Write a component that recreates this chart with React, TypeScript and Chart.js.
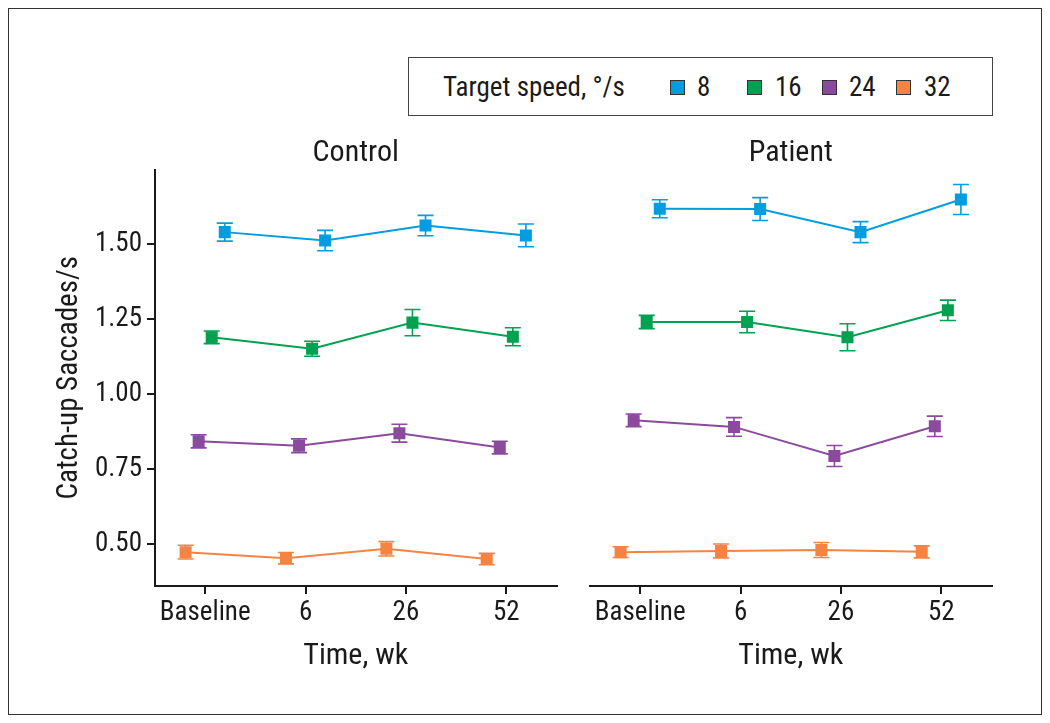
import React, { useEffect, useRef } from 'react';
import { Chart, registerables } from 'chart.js';

Chart.register(...registerables);

// ---------- data ----------
const timeLabels = ['Baseline', '6', '26', '52'];
const speedLabels = ['8', '16', '24', '32'];
const speedColors = ['#009EE0', '#00A150', '#8C4A9E', '#F58443'];
const dodge = [0.195, 0.065, -0.065, -0.195];
const yTicks = [0.5, 0.75, 1.0, 1.25, 1.5];

const control8 = [1.541, 1.513, 1.563, 1.53];
const control16 = [1.19, 1.152, 1.239, 1.192];
const control24 = [0.843, 0.828, 0.87, 0.822];
const control32 = [0.473, 0.453, 0.484, 0.45];
const control8Se = [0.03, 0.034, 0.034, 0.038];
const control16Se = [0.021, 0.025, 0.044, 0.03];
const control24Se = [0.022, 0.023, 0.03, 0.021];
const control32Se = [0.023, 0.019, 0.024, 0.019];

const patient8 = [1.619, 1.618, 1.541, 1.65];
const patient16 = [1.241, 1.241, 1.19, 1.28];
const patient24 = [0.913, 0.891, 0.794, 0.893];
const patient32 = [0.473, 0.477, 0.48, 0.474];
const patient8Se = [0.03, 0.038, 0.035, 0.05];
const patient16Se = [0.022, 0.036, 0.045, 0.034];
const patient24Se = [0.021, 0.031, 0.035, 0.034];
const patient32Se = [0.018, 0.023, 0.025, 0.02];

const FONT = "'Liberation Sans Narrow', 'Arial Narrow', 'Roboto Condensed', sans-serif";
const INK = '#1a1a1a';
const CAP = 0.08;

const errorBarPlugin = {
  id: 'errorBars',
  beforeDatasetsDraw(chart: any) {
    const { ctx } = chart;
    const xs = chart.scales.x;
    const ys = chart.scales.y;
    chart.data.datasets.forEach((ds: any) => {
      const errs: number[] = ds.errors;
      ctx.save();
      ctx.strokeStyle = ds.borderColor;
      ctx.lineWidth = 1.6;
      ds.data.forEach((p: any, j: number) => {
        const xc = xs.getPixelForValue(p.x);
        const xl = xs.getPixelForValue(p.x - CAP);
        const xr = xs.getPixelForValue(p.x + CAP);
        const yt = ys.getPixelForValue(p.y + errs[j]);
        const yb = ys.getPixelForValue(p.y - errs[j]);
        ctx.beginPath();
        ctx.moveTo(xc, yt);
        ctx.lineTo(xc, yb);
        ctx.moveTo(xl, yt);
        ctx.lineTo(xr, yt);
        ctx.moveTo(xl, yb);
        ctx.lineTo(xr, yb);
        ctx.stroke();
      });
      ctx.restore();
    });
  },
};

function buildConfig(title: string, means: number[][], errs: number[][], showY: boolean, padLeft: number, padRight: number): any {
  const datasets = means.map((vals, i) => ({
    label: speedLabels[i],
    data: vals.map((v, j) => ({ x: j + dodge[i], y: v })),
    errors: errs[i],
    borderColor: speedColors[i],
    backgroundColor: speedColors[i],
    borderWidth: 2,
    pointStyle: 'rect',
    pointRadius: 8.5,
    pointBorderWidth: 0,
    tension: 0,
  }));
  return {
    type: 'line',
    data: { datasets },
    plugins: [errorBarPlugin],
    options: {
      animation: false,
      responsive: false,
      layout: { padding: { left: padLeft, right: padRight, top: 0, bottom: 0 } },
      plugins: {
        legend: { display: false },
        tooltip: { enabled: false },
        title: {
          display: true,
          fullSize: false,
          text: title,
          color: INK,
          font: { family: FONT, size: 30, weight: 'normal', lineHeight: 1 },
          padding: { top: 18, bottom: 1.5 },
        },
      },
      scales: {
        x: {
          type: 'linear',
          min: -0.5,
          max: 3.5,
          afterBuildTicks: (s: any) => {
            s.ticks = timeLabels.map((_, i) => ({ value: i }));
          },
          afterFit: (s: any) => {
            s.height = 104;
          },
          ticks: {
            callback: (v: any) => timeLabels[v],
            color: INK,
            font: { family: FONT, size: 27 },
            padding: 3,
            maxRotation: 0,
            autoSkip: false,
          },
          grid: { drawOnChartArea: false, drawTicks: true, tickLength: 8, color: INK, lineWidth: 2 },
          border: { display: true, color: INK, width: 2 },
          title: {
            display: true,
            text: 'Time, wk',
            color: INK,
            font: { family: FONT, size: 30, lineHeight: 1.2 },
            padding: { top: 0, bottom: 16 },
          },
        },
        y: {
          type: 'linear',
          display: showY,
          min: 0.36,
          max: 1.75,
          afterBuildTicks: (s: any) => {
            s.ticks = yTicks.map((v) => ({ value: v }));
          },
          afterFit: (s: any) => {
            s.width = showY ? 135 : 0;
          },
          ticks: {
            callback: (v: any) => Number(v).toFixed(2),
            color: INK,
            font: { family: FONT, size: 27 },
            padding: 5,
          },
          grid: { drawOnChartArea: false, drawTicks: true, tickLength: 8, color: INK, lineWidth: 2 },
          border: { display: true, color: INK, width: 2 },
          title: {
            display: true,
            text: 'Catch-up Saccades/s',
            color: INK,
            font: { family: FONT, size: 29, lineHeight: 1.2 },
            padding: { top: 32, bottom: 0 },
          },
        },
      },
    },
  };
}

function Panel(props: { left: number; width: number; config: any }) {
  const ref = useRef<HTMLCanvasElement | null>(null);
  useEffect(() => {
    if (!ref.current) return;
    const chart = new Chart(ref.current, props.config);
    return () => chart.destroy();
  }, []);
  return (
    <canvas
      ref={ref}
      width={props.width}
      height={570}
      style={{ position: 'absolute', left: props.left, top: 112, width: props.width, height: 570 }}
    />
  );
}

const legendItems = [
  { sq: 670, tx: 697 },
  { sq: 747, tx: 775 },
  { sq: 822, tx: 849 },
  { sq: 896, tx: 924 },
];

export default function App() {
  const controlCfg = buildConfig(
    'Control',
    [control8, control16, control24, control32],
    [control8Se, control16Se, control24Se, control32Se],
    true,
    0,
    7
  );
  const patientCfg = buildConfig(
    'Patient',
    [patient8, patient16, patient24, patient32],
    [patient8Se, patient16Se, patient24Se, patient32Se],
    false,
    10,
    7
  );
  const textStyle: React.CSSProperties = {
    position: 'absolute',
    fontFamily: FONT,
    fontSize: 27,
    lineHeight: '28px',
    color: INK,
    whiteSpace: 'nowrap',
  };
  return (
    <div style={{ position: 'relative', width: 1034, height: 707 }}>
      <div
        style={{
          position: 'absolute',
          left: 0,
          top: 0,
          width: 1034,
          height: 707,
          border: '1.5px solid #333',
          boxSizing: 'border-box',
        }}
      />
      <Panel left={12} width={545} config={controlCfg} />
      <Panel left={572} width={420} config={patientCfg} />
      <div
        style={{
          position: 'absolute',
          left: 400,
          top: 49,
          width: 585,
          height: 59,
          border: '1.5px solid #444',
          boxSizing: 'border-box',
        }}
      />
      <div style={{ ...textStyle, left: 435, top: 65 }}>Target speed, °/s</div>
      {legendItems.map((it, i) => (
        <React.Fragment key={i}>
          <div
            style={{
              position: 'absolute',
              left: it.sq - 8,
              top: 72,
              width: 15,
              height: 15,
              boxSizing: 'border-box',
              background: speedColors[i],
              border: '1px solid #333',
            }}
          />
          <div style={{ ...textStyle, left: it.tx - 8, top: 65 }}>{speedLabels[i]}</div>
        </React.Fragment>
      ))}
    </div>
  );
}
